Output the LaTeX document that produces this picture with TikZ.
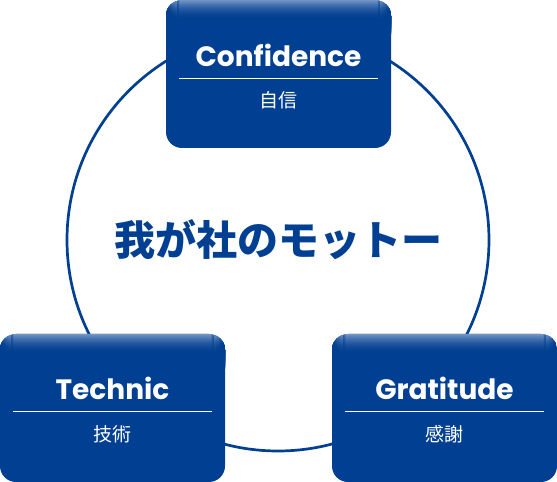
\documentclass[tikz,border=0pt]{standalone}
\usepackage{fontspec}
\newfontfamily\cjk{Noto Sans CJK JP}
\newfontfamily\latin{Poppins}
\usetikzlibrary{positioning}
\definecolor{mottoblue}{RGB}{0,63,145}
\definecolor{mottohi}{RGB}{118,150,198}
\tikzset{
  valuebox/.style={
    rounded corners=16pt,
    fill=mottoblue,
    minimum width=225pt,
    minimum height=148pt,
    path picture={
      \foreach \i in {0,...,19}{
        \pgfmathsetmacro\mix{100*(1-\i/20)^2}
        \fill [mottohi!\mix!mottoblue]
          ([yshift=-\i pt]path picture bounding box.north west) rectangle
          ([yshift=-\i pt-1.2pt]path picture bounding box.north east);
      }
    }
  },
  valuetitle/.style={
    text=white,
    font=\latin\bfseries\fontsize{28}{32}\selectfont
  },
  valuesub/.style={
    text=white,
    font=\cjk\fontsize{19}{23}\selectfont
  },
  valuerule/.style={
    draw=white,
    line width=0.8pt
  }
}

\begin{document}
\begin{tikzpicture}[x=1pt,y=1pt]
      \useasboundingbox (0,0) rectangle (557,482);
      \node [circle, draw=mottoblue, line width=2.7pt, minimum size=422pt,
      text=mottoblue, font=\cjk\bfseries\fontsize{41}{46}\selectfont]
      (Motto) at (278,242) {我が社のモットー};

      \node [valuebox] (Top) at (278.5,408) {};
      \node [valuebox] (Left) at (112.5,74) {};
      \node [valuebox] (Right) at (444.5,74) {};

      \node [on grid, above=19pt of Top, valuetitle] (TopTitle) {Confidence};
      \node [on grid, below=26pt of Top, valuesub] (TopSub) {自信};
      \draw [valuerule] ([xshift=13pt,yshift=-4pt]Top.west) -- ([xshift=-13pt,yshift=-4pt]Top.east);

      \node [on grid, above=20pt of Left, valuetitle] (LeftTitle) {Technic};
      \node [on grid, below=26pt of Left, valuesub] (LeftSub) {技術};
      \draw [valuerule] ([xshift=13pt,yshift=-3pt]Left.west) -- ([xshift=-13pt,yshift=-3pt]Left.east);

      \node [on grid, above=20pt of Right, valuetitle] (RightTitle) {Gratitude};
      \node [on grid, below=26pt of Right, valuesub] (RightSub) {感謝};
      \draw [valuerule] ([xshift=13pt,yshift=-3pt]Right.west) -- ([xshift=-13pt,yshift=-3pt]Right.east);
    \end{tikzpicture}
\end{document}
